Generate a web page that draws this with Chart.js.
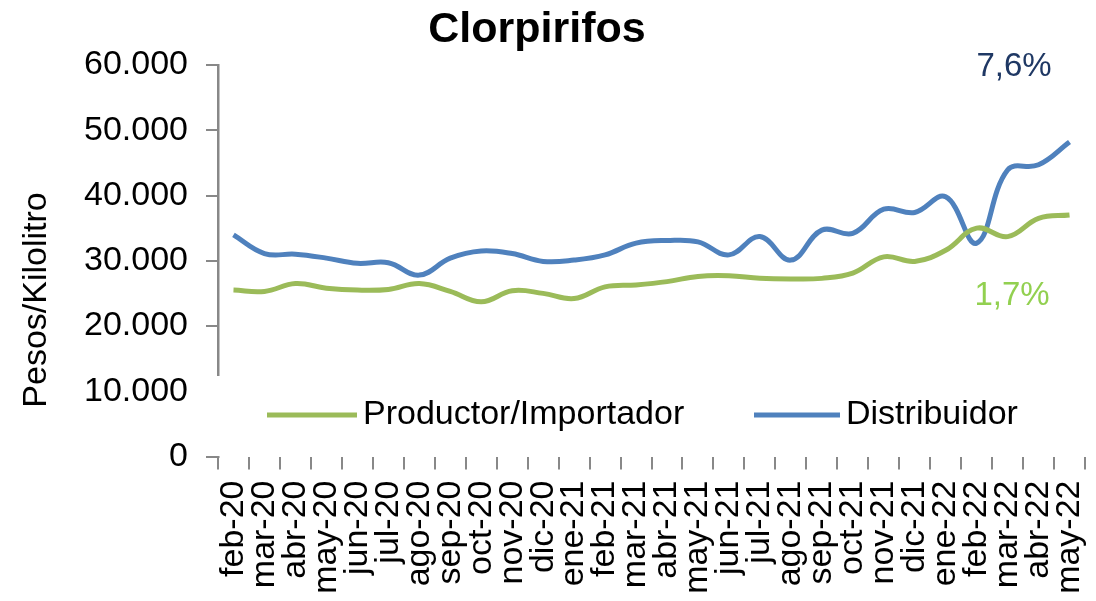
<!DOCTYPE html>
<html>
<head>
<meta charset="utf-8">
<title>Clorpirifos</title>
<script src="https://cdn.jsdelivr.net/npm/chart.js@4.4.1/dist/chart.umd.min.js"></script>
<style>
    body { margin: 0; background: #fff; }
    #wrap { width: 1096px; height: 601px; }
</style>
</head>
<body>
<div id="wrap"><canvas id="myChart" width="1096" height="601"></canvas></div>
<script>
// Datos
const meses = ['feb-20','mar-20','abr-20','may-20','jun-20','jul-20','ago-20','sep-20','oct-20','nov-20','dic-20',
    'ene-21','feb-21','mar-21','abr-21','may-21','jun-21','jul-21','ago-21','sep-21','oct-21','nov-21','dic-21',
    'ene-22','feb-22','mar-22','abr-22','may-22'];
const productor = [25500, 25300, 26500, 25800, 25500, 25600, 26500, 25300, 23700, 25400, 25000, 24200, 26000, 26300,
    26800, 27600, 27700, 27300, 27200, 27300, 28100, 30600, 29900, 31600, 35000, 33700, 36500, 37000];
const distribuidor = [33950, 31100, 31000, 30400, 29600, 29700, 27800, 30400, 31500, 31100, 29900, 30100, 30900, 32700,
    33100, 32900, 30900, 33700, 30100, 34700, 34200, 37900, 37400, 39800, 32700, 43900, 44700, 48200];
const yTicks = [0, 10000, 20000, 30000, 40000, 50000, 60000];
const variaciones = ['7,6%', '1,7%'];

const FONT = '"Liberation Sans", Arial, sans-serif';
const VERDE = '#9bbb59';
const AZUL = '#4f81bd';
const GRIS = '#888888';

// formato 60.000
function miles(v) {
    return String(v).replace(/\B(?=(\d{3})+(?!\d))/g, '.');
}

// Título, título del eje Y, leyenda y porcentajes
const extras = {
    id: 'extras',
    afterDraw: function (chart) {
        const ctx = chart.ctx;
        ctx.save();

        // titulo
        ctx.fillStyle = '#000';
        ctx.font = 'bold 43px ' + FONT;
        ctx.textAlign = 'center';
        ctx.textBaseline = 'middle';
        ctx.fillText('Clorpirifos', 537, 30);

        // titulo eje Y
        ctx.save();
        ctx.translate(37, 300);
        ctx.rotate(-Math.PI / 2);
        ctx.font = '34px ' + FONT;
        ctx.fillText('Pesos/Kilolitro', 0, 0);
        ctx.restore();

        // caja de la leyenda (tapa el eje)
        ctx.fillStyle = '#fff';
        ctx.fillRect(204, 376, 840, 80);
        const items = [{ x: 267, w: 90 }, { x: 754, w: 86 }];
        chart.data.datasets.forEach(function (ds, i) {
            const it = items[i];
            ctx.strokeStyle = ds.borderColor;
            ctx.lineWidth = 5;
            ctx.beginPath();
            ctx.moveTo(it.x, 415);
            ctx.lineTo(it.x + it.w, 415);
            ctx.stroke();
            ctx.fillStyle = '#000';
            ctx.font = '34px ' + FONT;
            ctx.textAlign = 'left';
            ctx.textBaseline = 'middle';
            ctx.fillText(ds.label, it.x + it.w + 6, 415);
        });

        // variaciones
        ctx.font = '33px ' + FONT;
        ctx.textAlign = 'center';
        ctx.fillStyle = '#1f3864';
        ctx.fillText(variaciones[0], 1014, 67);
        ctx.fillStyle = '#92d050';
        ctx.fillText(variaciones[1], 1012, 296);
        ctx.restore();
    }
};

const ctx = document.getElementById('myChart').getContext('2d');
const myChart = new Chart(ctx, {
    type: 'line',
    data: {
        labels: meses,
        datasets: [{
            label: 'Productor/Importador',
            data: productor,
            borderColor: VERDE,
            borderWidth: 5,
            pointRadius: 0,
            tension: 0.4,
            fill: false
        }, {
            label: 'Distribuidor',
            data: distribuidor,
            borderColor: AZUL,
            borderWidth: 5,
            pointRadius: 0,
            tension: 0.4,
            fill: false
        }]
    },
    options: {
        responsive: false,
        animation: false,
        layout: { padding: { top: 65, right: 11, left: 0, bottom: 0 } },
        plugins: {
            legend: { display: false },
            tooltip: { enabled: false },
            title: { display: false }
        },
        scales: {
            x: {
                offset: true,
                grid: { offset: true, drawOnChartArea: false, tickLength: 13, color: GRIS, lineWidth: 2 },
                border: { display: false },
                ticks: {
                    autoSkip: false,
                    minRotation: 90,
                    maxRotation: 90,
                    padding: 11,
                    color: '#000',
                    font: { family: FONT, size: 34 }
                },
                afterFit: function (scale) {
                    scale.height = 144.5;
                    scale.paddingLeft = 0;
                    scale.paddingRight = 0;
                }
            },
            y: {
                min: 0,
                max: 60000,
                afterBuildTicks: function (scale) {
                    scale.ticks = yTicks.map(function (v) { return { value: v }; });
                },
                grid: { drawOnChartArea: false, tickLength: 12, color: GRIS, lineWidth: 2 },
                border: { color: GRIS, width: 2.5 },
                ticks: {
                    padding: 18,
                    color: '#000',
                    font: { family: FONT, size: 34 },
                    callback: function (v) { return miles(v); }
                },
                afterFit: function (scale) {
                    scale.width = 218;
                    scale.paddingTop = 0;
                    scale.paddingBottom = 0;
                }
            }
        }
    },
    plugins: [extras]
});
</script>
</body>
</html>
